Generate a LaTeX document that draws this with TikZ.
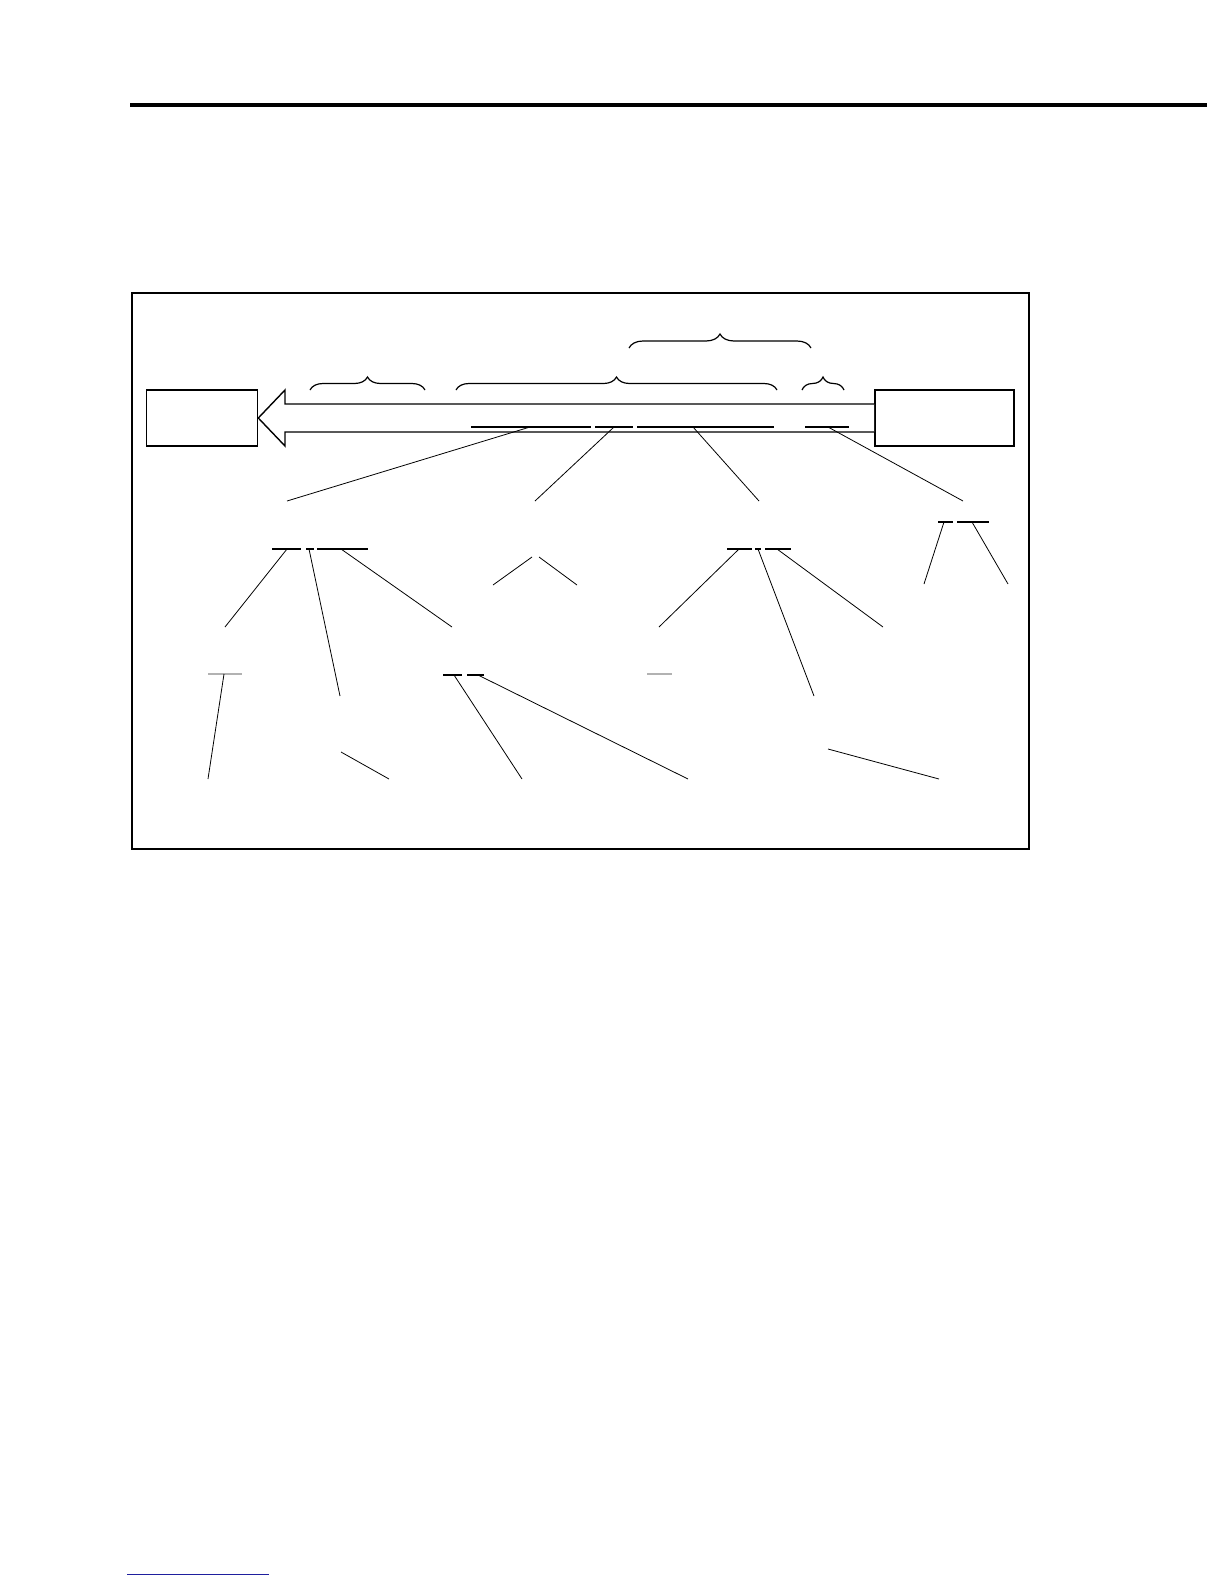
\documentclass[tikz,border=0pt]{standalone}
\usetikzlibrary{decorations.pathreplacing}
\tikzset{rule/.style={line width=2bp}}
\tikzset{frame/.style={line width=0.6pt}}
\tikzset{leader/.style={line width=0.4pt}}
\tikzset{uline/.style={line width=0.6pt}}
\tikzset{faint/.style={uline, gray!60}}
\tikzset{box/.style={draw, line width=0.8pt, minimum height=28bp, inner sep=0pt}}
\tikzset{brace/.style args={#1}{decorate, decoration={brace, amplitude=#1}, line width=0.6pt}}
\definecolor{linkblue}{rgb}{0.12,0.12,0.62}

\begin{document}
\begin{tikzpicture}[x=0.5bp, y=-0.5bp]
\useasboundingbox (0,0) rectangle (1224,1584);
\draw[rule] (130,105) -- (1207,105);
\draw[line width=0.5pt, linkblue] (127,1574) -- (269,1574);
\draw[frame] (132,293) rectangle (1029,849);

\node[box, minimum width=55.5bp] (src) at (202,418) {};
\node[box, minimum width=69.5bp] (dst) at (944.5,418) {};
\draw[line width=0.7pt, fill=white] (dst.west |- 0,404) -- (285,404) -- (285,390)
  -- (src.east) -- (285,446) -- (285,432) -- (dst.west |- 0,432);

% braces over the arrow
\draw[brace={6.5bp}] (310,390) -- (425,390);
\draw[brace={6.5bp}] (456,390) -- (777,390);
\draw[brace={6.5bp}] (802,390) -- (844,390);
\draw[brace={7bp}] (629,348) -- (811,348);

% first row
\draw[uline] (471,427) -- (591,427);
\draw[uline] (595,427) -- (633,427);
\draw[uline] (637,427) -- (774,427);
\draw[uline] (805,427) -- (849,427);
\coordinate (u1) at (530,427);
\coordinate (u2) at (614,427);
\coordinate (u3) at (693,427);
\coordinate (u4) at (828,427);
\coordinate (a1) at (287,501);
\coordinate (a2) at (535,501);
\coordinate (a3) at (759,501);
\coordinate (a4) at (963,501);
\draw[leader] (u1) -- (a1);
\draw[leader] (u2) -- (a2);
\draw[leader] (u3) -- (a3);
\draw[leader] (u4) -- (a4);

% second row
\draw[uline] (272,549) -- (301,549);
\draw[uline] (306,549) -- (314,549);
\draw[uline] (317,549) -- (368,549);
\coordinate (v1) at (287,549);
\coordinate (v2) at (309,549);
\coordinate (v3) at (341,549);
\coordinate (b1) at (225,627);
\coordinate (b2) at (340,696);
\coordinate (b3) at (452,627);
\draw[leader] (v1) -- (b1);
\draw[leader] (v2) -- (b2);
\draw[leader] (v3) -- (b3);

\coordinate (w1) at (532,557);
\coordinate (w2) at (539,557);
\coordinate (c1) at (493,585);
\coordinate (c2) at (577,585);
\draw[leader] (w1) -- (c1);
\draw[leader] (w2) -- (c2);

\draw[uline] (727,549) -- (752,549);
\draw[uline] (755,549) -- (761,549);
\draw[uline] (765,549) -- (791,549);
\coordinate (x1) at (739,549);
\coordinate (x2) at (758,549);
\coordinate (x3) at (777,549);
\coordinate (d1) at (659,627);
\coordinate (d2) at (814,696);
\coordinate (d3) at (883,627);
\draw[leader] (x1) -- (d1);
\draw[leader] (x2) -- (d2);
\draw[leader] (x3) -- (d3);

\draw[uline] (938,522) -- (953,522);
\draw[uline] (957,522) -- (989,522);
\coordinate (y1) at (944,522);
\coordinate (y2) at (972,522);
\coordinate (e1) at (924,584);
\coordinate (e2) at (1008,584);
\draw[leader] (y1) -- (e1);
\draw[leader] (y2) -- (e2);

% third row
\draw[faint] (208,674) -- (242,674);
\draw[faint] (647,674) -- (672,674);
\coordinate (z1) at (224,674);
\coordinate (f1) at (208,779);
\draw[leader] (z1) -- (f1);

\draw[uline] (443,675) -- (462,675);
\draw[uline] (467,675) -- (484,675);
\coordinate (z2) at (454,675);
\coordinate (z3) at (478,675);
\coordinate (f2) at (522,779);
\coordinate (f3) at (688,779);
\draw[leader] (z2) -- (f2);
\draw[leader] (z3) -- (f3);

\coordinate (g1) at (341,752);
\coordinate (h1) at (389,779);
\draw[leader] (g1) -- (h1);
\coordinate (g2) at (828,749);
\coordinate (h2) at (939,779);
\draw[leader] (g2) -- (h2);
\end{tikzpicture}
\end{document}
